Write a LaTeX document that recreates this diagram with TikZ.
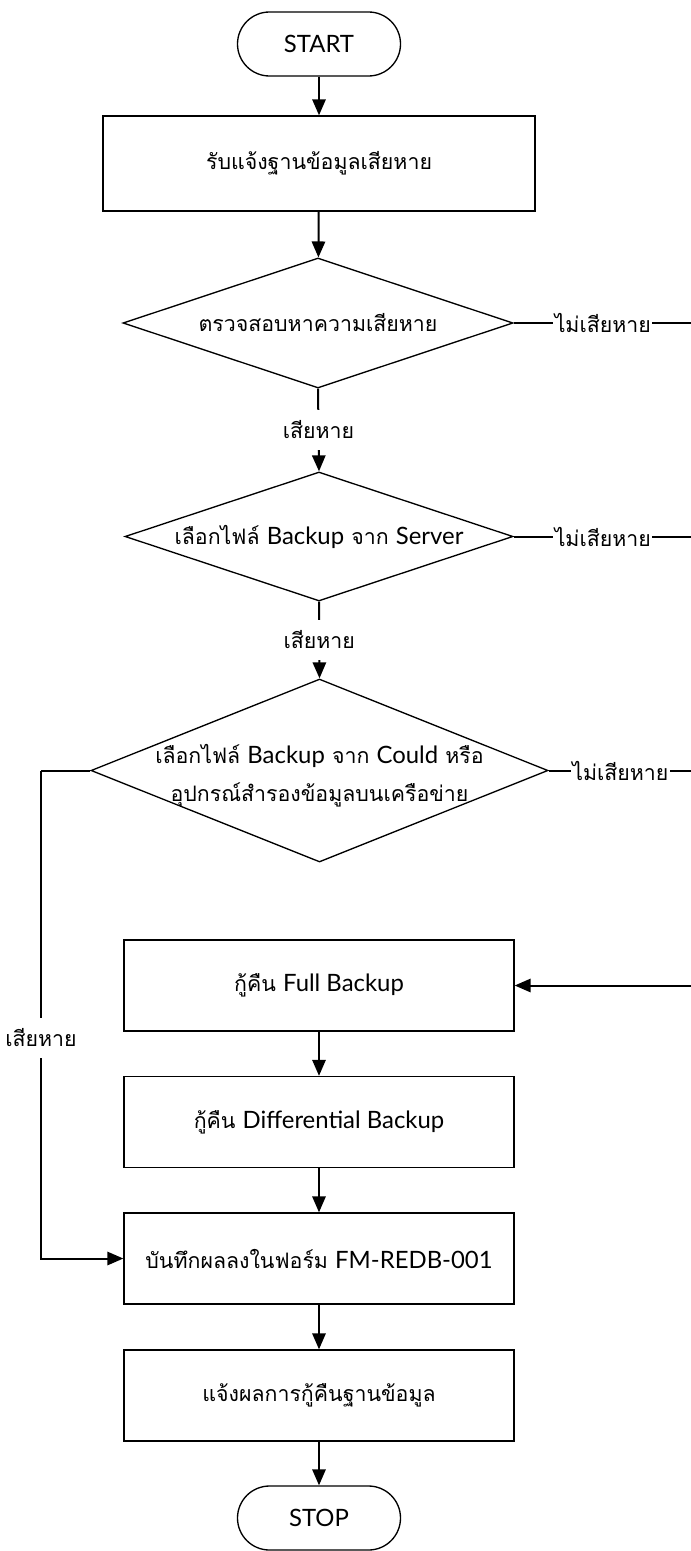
\documentclass[tikz,border=0pt]{standalone}
\usepackage{fontspec}
\setmainfont[Script=Thai]{Loma}
\newfontfamily\latf{Lato}[Scale=1.12]
\newcommand{\lt}[1]{{\latf #1}}
\usetikzlibrary{shapes.geometric,arrows.meta}
\tikzset{
  shapebox/.style={draw, line width=1pt, rectangle, inner sep=0pt},
  term/.style={draw, line width=1pt, rectangle, rounded corners=24pt, minimum width=122.25pt, minimum height=48pt, inner sep=0pt},
  dia/.style={draw, line width=1pt, diamond, inner sep=0pt},
  conn/.style={line width=1.5pt},
  arr/.style={line width=1.5pt, -{Triangle[length=12pt,width=10pt]}},
  lbl/.style={fill=white, inner sep=1pt},
  vlbl/.style={fill=white, inner sep=0pt, minimum height=30pt},
  txt/.style={align=center}
}
\begin{document}
\begin{tikzpicture}[x=0.75pt,y=-0.75pt, every node/.append style={font=\fontsize{16}{28.5}\selectfont}]
\useasboundingbox (0,0) rectangle (690,1551);
\fill[white] (0,0) rectangle (690,1551);

\node[term] (start) at (319,44) {\lt{START}};
\node[shapebox, minimum width=324pt, minimum height=71.25pt] (b1) at (319,163.5) {รับแจ้งฐานข้อมูลเสียหาย};
\node[dia, minimum width=292.5pt, minimum height=97.5pt] (d1) at (318,323) {};
\node[txt] at (d1) {ตรวจสอบหาความเสียหาย};
\node[dia, minimum width=291pt, minimum height=96.75pt] (d2) at (319,536.5) {};
\node[txt] at (d2) {เลือกไฟล์ \lt{Backup} จาก \lt{Server}};
\node[dia, minimum width=342.75pt, minimum height=137.25pt] (d3) at (319.5,770.5) {};
\node[txt, yshift=-4pt] at (d3) {เลือกไฟล์ \lt{Backup} จาก \lt{Could} หรือ\\อุปกรณ์สำรองข้อมูลบนเครือข่าย};
\node[shapebox, minimum width=292.5pt, minimum height=68.25pt] (full) at (319,985.5) {กู้คืน \lt{Full Backup}};
\node[shapebox, minimum width=292.5pt, minimum height=68.25pt] (diff) at (319,1122) {กู้คืน \lt{Differential Backup}};
\node[shapebox, minimum width=292.5pt, minimum height=68.25pt] (rec) at (319,1258.5) {บันทึกผลลงในฟอร์ม \lt{FM-REDB-001}};
\node[shapebox, minimum width=292.5pt, minimum height=68.25pt] (ntf) at (319,1395.5) {แจ้งผลการกู้คืนฐานข้อมูล};
\node[term] (stop) at (319,1518) {\lt{STOP}};

\coordinate (r1) at (692,323);
\coordinate (r2) at (692,536.5);
\coordinate (r3) at (692,770.5);
\coordinate (r4) at (692,985.5);
\coordinate (l1) at (41,770.5);
\coordinate (l2) at (41,1258.5);

\draw[arr] (start) -- (b1);
\draw[arr] (b1) -- (d1);
\draw[arr] (d1.south) -- node[vlbl]{เสียหาย} (d2.north);
\draw[arr] (d2.south) -- node[vlbl]{เสียหาย} (d3.north);
\draw[conn] (d1.east) -- node[lbl]{ไม่เสียหาย} (r1) -- (r4);
\draw[conn] (d2.east) -- node[lbl]{ไม่เสียหาย} (r2);
\draw[conn] (d3.east) -- node[lbl]{ไม่เสียหาย} (r3);
\draw[arr] (r4) -- (full.east);
\draw[conn] (d3.west) -- (l1);
\draw[arr] (l1) -- node[vlbl, pos=0.548]{เสียหาย} (l2) -- (rec.west);
\draw[arr] (full) -- (diff);
\draw[arr] (diff) -- (rec);
\draw[arr] (rec) -- (ntf);
\draw[arr] (ntf) -- (stop);
\end{tikzpicture}
\end{document}
